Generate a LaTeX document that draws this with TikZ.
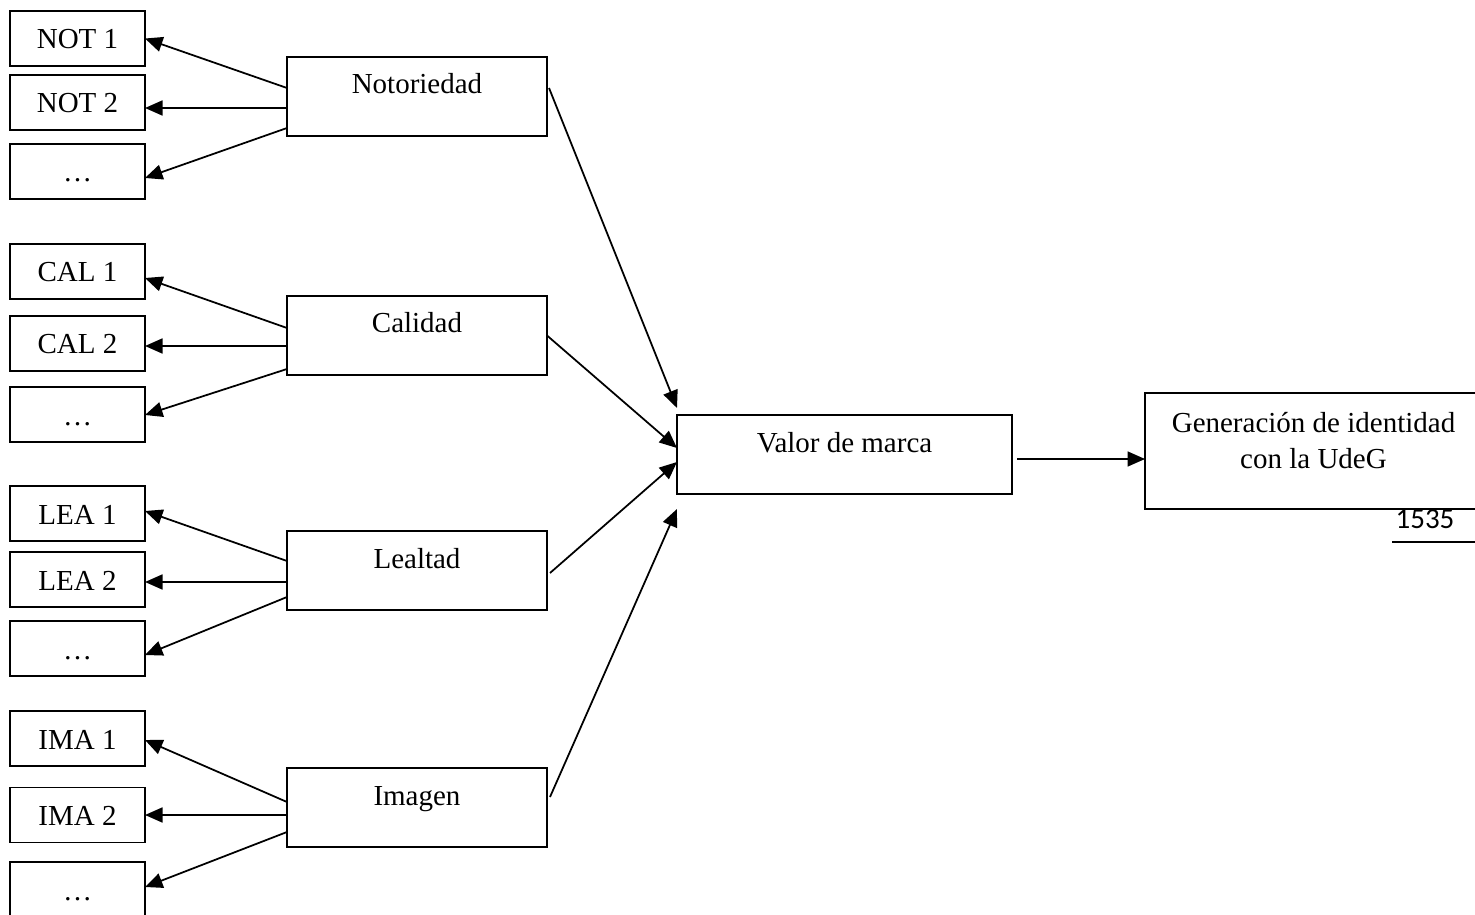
\documentclass[tikz,border=0pt]{standalone}
\usepackage{fontspec}
\setmainfont{Liberation Serif}
\newfontfamily\pagefont{Carlito}
\usetikzlibrary{arrows.meta,positioning,calc}
\tikzset{
  % indicator boxes on the left, text slightly below centre
  ind/.style  = {rectangle, draw, line width=1pt, minimum width=27mm, inner sep=0pt, outer sep=0pt,
                 text height=7.6mm, text depth=3.4mm, font=\fontsize{16.5}{20}\selectfont},
  % dimension boxes, text sits in the upper part
  dimbox/.style = {rectangle, draw, line width=1pt, minimum width=#1, inner sep=0pt, outer sep=0pt,
                 text height=7.4mm, text depth=8.4mm, font=\fontsize{16.5}{20}\selectfont},
  dimbox/.default = 52mm,
  outbox/.style = {rectangle, draw, line width=1pt, minimum width=67.4mm, minimum height=23.2mm,
                 inner sep=0pt, outer sep=0pt},
  lbl/.style  = {align=center, inner sep=0pt, font=\fontsize{16.5}{20.4}\selectfont},
  arr/.style  = {-{Triangle[length=3.5mm,width=3mm]}, line width=1pt},
}
\begin{document}
\begin{tikzpicture}[x=0.2mm,y=-0.2mm]
\useasboundingbox (0,0) rectangle (1475,915);
% indicators
\node[ind] (n1) at (77.5,38.5)  {NOT 1};
\node[ind] (n2) at (77.5,102.5) {NOT 2};
\node[ind] (n3) at (77.5,171.5) {…};
\node[ind] (c1) at (77.5,271.5) {CAL 1};
\node[ind] (c2) at (77.5,343.5) {CAL 2};
\node[ind] (c3) at (77.5,414.5) {…};
\node[ind] (l1) at (77.5,513.5) {LEA 1};
\node[ind] (l2) at (77.5,579.5) {LEA 2};
\node[ind] (l3) at (77.5,648.5) {…};
\node[ind] (i1) at (77.5,738.5) {IMA 1};
\node[ind] (i2) at (77.5,815)   {IMA 2};
\node[ind] (i3) at (77.5,889.5) {…};
% dimensions
\node[dimbox] (not) at (417,96.5)  {Notoriedad};
\node[dimbox] (cal) at (417,335.5) {Calidad};
\node[dimbox] (lea) at (417,570.5) {Lealtad};
\node[dimbox] (ima) at (417,807.5) {Imagen};
\node[dimbox=67mm] (val) at (844.5,454.5) {Valor de marca};
\node[outbox] (gen) at (1313.5,451) {};
\node[lbl, below=3.8mm of gen.north] (gentxt) {Generación de identidad\\con la UdeG};
% page number
\node[inner sep=0pt, font=\pagefont\fontsize{16.5}{19}\selectfont] (pgnum) at (1425,519) {1535};
\draw[line width=0.4mm] (1392,542) -- (1480,542);
% dimension -> indicators
\foreach \src/\dst/\s/\e in {not/n1/-8.5/0, not/n2/11.5/5.5, not/n3/31.5/6.5,
                             cal/c1/-7.5/6.5, cal/c2/10.5/2.5, cal/c3/33.5/0.5,
                             lea/l1/-9.5/-2.5, lea/l2/11.5/2.5, lea/l3/26.5/6.5,
                             ima/i1/-5.5/1.5, ima/i2/7.5/0, ima/i3/24.5/-2.5}
  \draw[arr] ($(\src.west)+(0,\s)$) -- ($(\dst.east)+(0,\e)$);
% dimensions -> brand value
\draw[arr] ($(not.east)+(2,-8.5)$) -- ($(val.north west)+(0,-7)$);
\draw[arr] (cal.east) -- ($(val.west)+(0,-6.5)$);
\draw[arr] ($(lea.east)+(3,2.5)$) -- ($(val.west)+(0,7.5)$);
\draw[arr] ($(ima.east)+(3,-10.5)$) -- ($(val.south west)+(0,15)$);
% brand value -> identity
\draw[arr] ($(val.east)+(5,4.5)$) -- ($(gen.west)+(0,8)$);
\end{tikzpicture}
\end{document}
